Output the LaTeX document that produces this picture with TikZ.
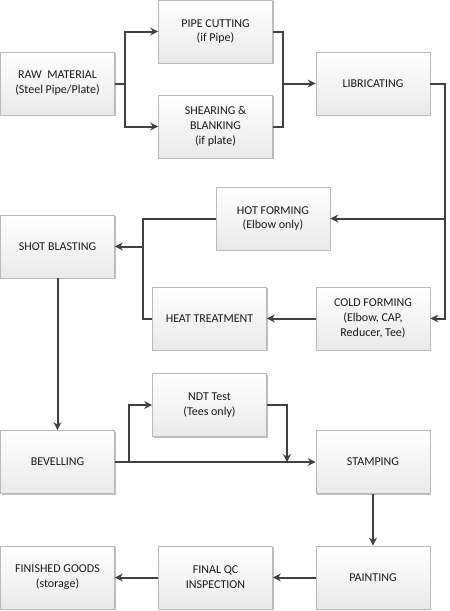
\documentclass[tikz,border=0pt]{standalone}
\usepackage{fontspec}
\setmainfont{Carlito}
\usetikzlibrary{arrows.meta,shadows}
\begin{document}
\begin{tikzpicture}[x=1pt,y=-1pt,
  box/.style={draw=gray!55,line width=0.7pt,top color=white,bottom color=gray!17,
    drop shadow={shadow xshift=1.2pt,shadow yshift=-1.2pt,opacity=0.25,fill=black},
    minimum width=114pt,minimum height=63pt,inner sep=2pt,align=center,
    font=\fontsize{12}{14.8}\selectfont,text=black!90},
  arr/.style={draw=black!75,line width=2pt,-{Stealth[length=8pt,width=8pt]}},
  ln/.style={draw=black!75,line width=2pt}]
\useasboundingbox (0,0) rectangle (450,611);
\node[box] (raw)   at (57.5,83.5)  {RAW\ \ MATERIAL\\(Steel Pipe/Plate)};
\node[box] (pipe)  at (215.5,31.5) {PIPE CUTTING\\(if Pipe)};
\node[box] (shear) at (215.5,126.5){SHEARING \&\\BLANKING\\(if plate)};
\node[box] (lib)   at (373,83.5)   {LIBRICATING};
\node[box] (hot)   at (273,218.5)  {HOT FORMING\\(Elbow only)};
\node[box] (shot)  at (57.5,246.5) {SHOT BLASTING};
\node[box] (heat)  at (209.5,318.5){HEAT TREATMENT};
\node[box] (cold)  at (373,318.5)  {COLD FORMING\\(Elbow, CAP,\\Reducer, Tee)};
\node[box] (ndt)   at (209.5,405)  {NDT Test\\(Tees only)};
\node[box] (bev)   at (57.5,462)   {BEVELLING};
\node[box] (stamp) at (373,462)    {STAMPING};
\node[box] (fin)   at (57.5,577.5) {FINISHED GOODS\\(storage)};
\node[box] (qc)    at (215.5,577.5){FINAL QC\\INSPECTION};
\node[box] (paint) at (373,577.5)  {PAINTING};
% connectors
\coordinate (j0) at (125,83.5);
\draw[ln] (raw.east) -- (j0);
\draw[arr] (j0) |- (pipe.west);
\draw[arr] (j0) |- (shear.west);
\coordinate (j1) at (283,83.5);
\draw[ln] (pipe.east) -| (j1);
\draw[ln] (shear.east) -| (j1);
\draw[arr] (j1) -- (lib.west);
\coordinate (j2) at (445,83.5);
\coordinate (j3) at (445,218.5);
\draw[ln] (lib.east) -- (j2) -- (j3);
\draw[arr] (j3) -- (hot.east);
\draw[arr] (j3) |- (cold.east);
\coordinate (j4) at (143,246.5);
\draw[ln] (hot.west) -| (j4);
\draw[ln] (heat.west) -| (j4);
\draw[arr] (j4) -- (shot.east);
\draw[arr] (cold.west) -- (heat.east);
\draw[arr] (shot.south) -- (bev.north);
\draw[arr] (bev.east) -- (stamp.west);
\coordinate (j5) at (129,462);
\draw[arr] (j5) |- (ndt.west);
\coordinate (j6) at (287,462);
\draw[arr] (ndt.east) -| (j6);
\draw[arr] (stamp.south) -- (paint.north);
\draw[arr] (paint.west) -- (qc.east);
\draw[arr] (qc.west) -- (fin.east);
\end{tikzpicture}
\end{document}
